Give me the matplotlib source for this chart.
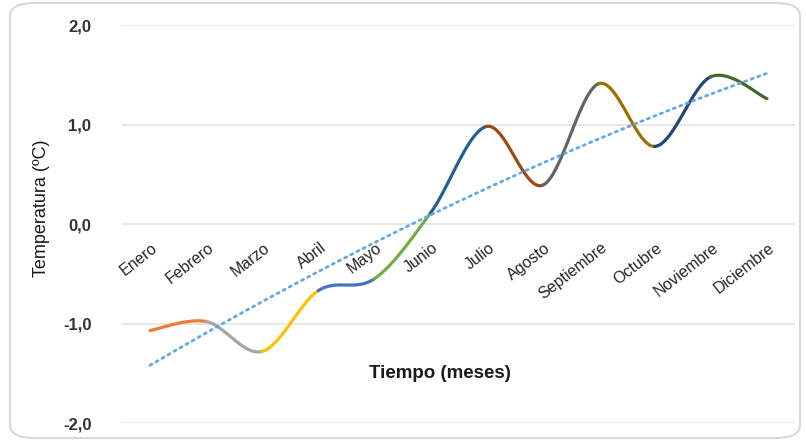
import numpy as np
import matplotlib.pyplot as plt
from matplotlib.patches import FancyBboxPatch
from matplotlib.transforms import ScaledTranslation

plt.rcParams['font.family'] = ['Liberation Sans', 'DejaVu Sans']

# Monthly temperature anomalies
months = ["Enero", "Febrero", "Marzo", "Abril", "Mayo", "Junio", "Julio",
          "Agosto", "Septiembre", "Octubre", "Noviembre", "Diciembre"]
temps = [-1.07, -0.98, -1.28, -0.67, -0.55, 0.11, 0.98, 0.39, 1.41, 0.78, 1.48, 1.26]

# One colour per month-to-month segment
seg_colors = ["#ED7D31", "#A5A5A5", "#FFC000", "#4472C4", "#70AD47", "#255E91",
              "#9E480E", "#636363", "#997300", "#264478", "#43682B"]
trend_color = "#64A8E6"
yticks = [-2.0, -1.0, 0.0, 1.0, 2.0]


def smooth_segment(x, y, i, n=60):
    # Catmull-Rom style Bezier between point i and i+1
    p = np.column_stack([x, y])
    p0 = p[max(i - 1, 0)]
    p1 = p[i]
    p2 = p[i + 1]
    p3 = p[min(i + 2, len(p) - 1)]
    c1 = p1 + (p2 - p0) / 6.0
    c2 = p2 - (p3 - p1) / 6.0
    t = np.linspace(0, 1, n)[:, None]
    pts = ((1 - t) ** 3) * p1 + 3 * ((1 - t) ** 2) * t * c1 + 3 * (1 - t) * t ** 2 * c2 + t ** 3 * p2
    return pts[:, 0], pts[:, 1]


x = np.arange(1, len(months) + 1)
y = np.array(temps)

fig = plt.figure(figsize=(8.06, 4.42), dpi=100)
ax = fig.add_axes([122 / 806, 1 - 423 / 442, 673 / 806, 398 / 442])

# rounded chart frame
frame = FancyBboxPatch((10 / 806, 4 / 442), 790 / 806, 435 / 442,
                       boxstyle="round,pad=0,rounding_size=0.03",
                       transform=fig.transFigure, facecolor="white",
                       edgecolor="#D9D9D9", linewidth=1.5, zorder=-10)
fig.patches.append(frame)

for yt in yticks:
    ax.axhline(yt, color="#E3E3E3", lw=1.2, zorder=0)

for i in range(len(x) - 1):
    sx, sy = smooth_segment(x, y, i)
    ax.plot(sx, sy, color=seg_colors[i], lw=2.3, solid_capstyle="round", zorder=3)

# polynomial (order 2) trendline
coef = np.polyfit(x, y, 2)
tx = np.linspace(x[0], x[-1], 200)
ax.plot(tx, np.polyval(coef, tx), color=trend_color, lw=2.0,
        linestyle=(0, (0.8, 1.7)), dash_capstyle="round", zorder=4)

ax.set_xlim(0.5, len(months) + 0.5)
ax.set_ylim(-2, 2)
for s in ax.spines.values():
    s.set_visible(False)
ax.set_xticks([])
ax.set_yticks(yticks)
ax.set_yticklabels([("%.1f" % v).replace(".", ",") for v in yticks],
                   fontsize=12, fontweight="bold", color="#333333")
ax.tick_params(axis="y", length=0, pad=22)
ax.patch.set_alpha(0)

# month labels sit just under the zero line
off = ScaledTranslation(6 / 100, -22 / 100, fig.dpi_scale_trans)
for xi, m in zip(x, months):
    ax.text(xi, 0, m, transform=ax.transData + off, rotation=38,
            rotation_mode="anchor", ha="right", va="center",
            fontsize=11.5, color="#262626")

fig.text(42 / 806, 1 - 208 / 442, "Temperatura (ºC)", rotation=90,
         ha="center", va="center", fontsize=13, color="#1A1A1A")
fig.text(440 / 806, 1 - 373 / 442, "Tiempo (meses)", ha="center", va="center",
         fontsize=13.5, fontweight="bold", color="#1A1A1A")

fig.savefig("out.png", dpi=100)
